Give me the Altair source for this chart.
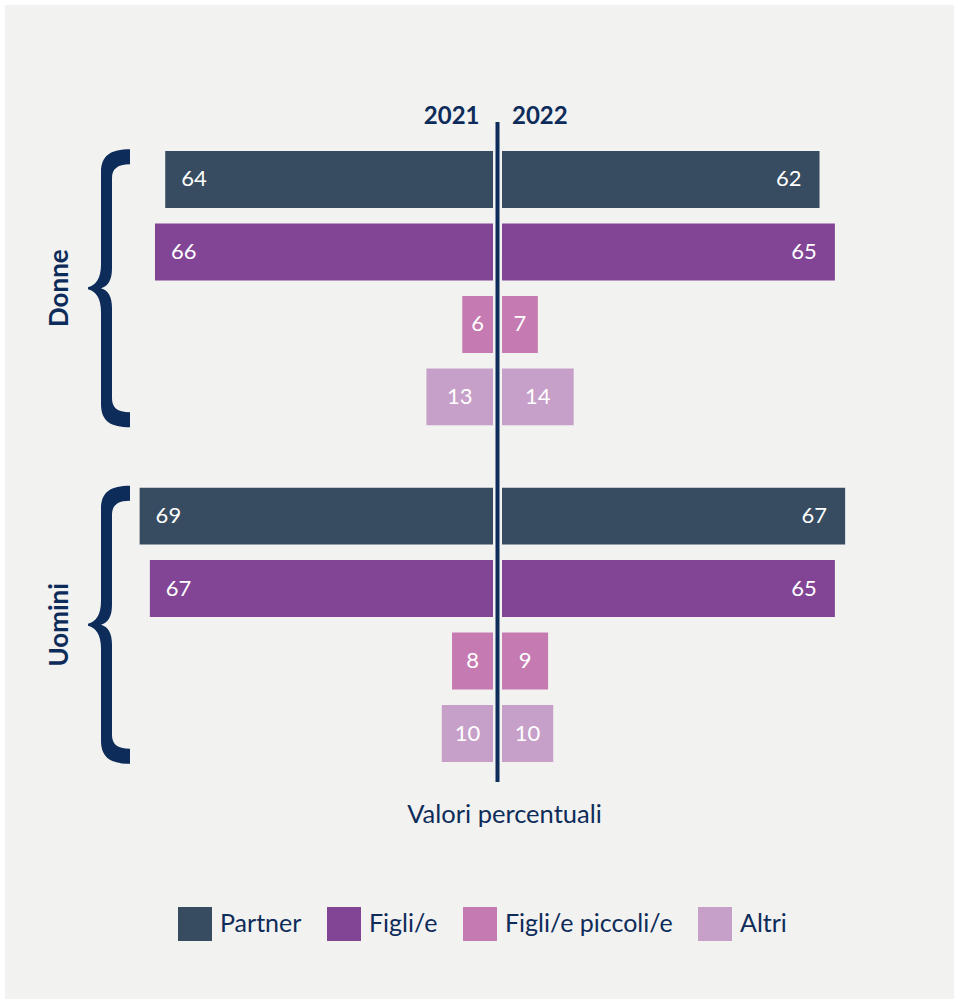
import json
import altair as alt
import pandas as pd

genders = ["Donne", "Uomini"]
categories = ["Partner", "Figli/e", "Figli/e piccoli/e", "Altri"]
years = ["2021", "2022"]
donne_2021 = [64, 66, 6, 13]
donne_2022 = [62, 65, 7, 14]
uomini_2021 = [69, 67, 8, 10]
uomini_2022 = [67, 65, 9, 10]
colors = ["#374b61", "#824596", "#c57ab1", "#c7a0c9"]
big_categories = ["Partner", "Figli/e"]
x_title = ["Valori percentuali"]

NAVY = "#0e2c5a"
FONT = "Lato"

rows = []
for g, yr, vals in [("Donne", "2021", donne_2021), ("Donne", "2022", donne_2022),
                    ("Uomini", "2021", uomini_2021), ("Uomini", "2022", uomini_2022)]:
    for c, v in zip(categories, vals):
        rows.append({"genere": g, "categoria": c, "anno": yr, "valore": v})
df = pd.DataFrame(rows)
gdf = pd.DataFrame({"genere": genders})

BIG = f"indexof({json.dumps(big_categories)}, datum.categoria) >= 0"
Y0 = f"datum.anno == '{years[0]}'"
Y1 = f"datum.anno == '{years[1]}'"

xscale = alt.Scale(domain=[-70, 70], nice=False)
yscale = alt.Scale(domain=genders, paddingInner=0.185, paddingOuter=0.0727, align=0.592)
Y = alt.Y("genere:N", scale=yscale, axis=None)
YO = alt.YOffset("categoria:N", scale=alt.Scale(domain=categories, paddingInner=0.214, paddingOuter=0))
C = alt.Color("categoria:N", scale=alt.Scale(domain=categories, range=colors), title=None,
              legend=alt.Legend(orient="none", legendX=39, legendY=785, direction="horizontal",
                                symbolType="square", symbolSize=1156, symbolStrokeWidth=0,
                                symbolOpacity=1, labelFontSize=25, labelFont=FONT,
                                labelLimit=400, labelColor=NAVY, labelOffset=8,
                                columnPadding=25))

base = alt.Chart(df)

bg = alt.Chart(pd.DataFrame({"a": [0]})).mark_rect(color="#f2f2f1").encode(
    x=alt.value(-134), x2=alt.value(840), y=alt.value(-117), y2=alt.value(900))

left_bars = base.transform_filter(Y0).transform_calculate(
    neg="-datum.valore").mark_bar(xOffset=-4.5, x2Offset=-4.5).encode(
    x=alt.X("neg:Q", scale=xscale, axis=None),
    x2=alt.datum(0), y=Y, yOffset=YO, color=C)

right_bars = base.transform_filter(Y1).mark_bar(
    xOffset=4.5, x2Offset=4.5).encode(
    x=alt.X("valore:Q", scale=xscale, axis=None), x2=alt.datum(0), y=Y, yOffset=YO, color=C)

txt = dict(color="white", fontSize=22, font=FONT, baseline="middle")

left_big = base.transform_filter(f"{Y0} && {BIG}").transform_calculate(
    neg="-datum.valore").mark_text(align="left", dx=11.5, **txt).encode(
    x=alt.X("neg:Q", scale=xscale, axis=None), y=Y, yOffset=YO, text="valore:Q")

right_big = base.transform_filter(f"{Y1} && {BIG}").mark_text(
    align="right", dx=-13.5, **txt).encode(
    x=alt.X("valore:Q", scale=xscale, axis=None), y=Y, yOffset=YO, text="valore:Q")

left_small = base.transform_filter(f"{Y0} && !({BIG})").transform_calculate(
    mid="-datum.valore / 2").mark_text(align="center", dx=-4.5, **txt).encode(
    x=alt.X("mid:Q", scale=xscale, axis=None), y=Y, yOffset=YO, text="valore:Q")

right_small = base.transform_filter(f"{Y1} && !({BIG})").transform_calculate(
    mid="datum.valore / 2").mark_text(align="center", dx=4.5, **txt).encode(
    x=alt.X("mid:Q", scale=xscale, axis=None), y=Y, yOffset=YO, text="valore:Q")

center_rule = alt.Chart(pd.DataFrame({"a": [0]})).mark_rule(color=NAVY, strokeWidth=4).encode(
    x=alt.datum(0), y=alt.value(0), y2=alt.value(660))

year_style = dict(color=NAVY, fontSize=24, font=FONT, fontWeight="bold", baseline="alphabetic")
year_left = alt.Chart(pd.DataFrame({"anno": [years[0]]})).mark_text(
    align="right", dx=-18, **year_style).encode(x=alt.datum(0), y=alt.value(2), text="anno:N")
year_right = alt.Chart(pd.DataFrame({"anno": [years[1]]})).mark_text(
    align="left", dx=14.5, **year_style).encode(x=alt.datum(0), y=alt.value(2), text="anno:N")

title_text = alt.Chart(pd.DataFrame({"t": x_title})).mark_text(
    align="center", baseline="alphabetic", fontSize=25.5, font=FONT, color=NAVY).encode(
    x=alt.value(365.5), y=alt.value(701), text="t:N")

BRACE = ("M 21 -139 C 2 -139 -8 -133 -8 -116 L -8 -24 C -8 -10 -13 -3 -21 -1 L -21 1 "
         "C -13 3 -8 10 -8 24 L -8 116 C -8 133 2 139 21 139 L 21 124 C 8 124 3 119 3 110 "
         "L 3 20 C 3 8 -1 2 -8 0 C -1 -2 3 -8 3 -20 L 3 -110 C 3 -119 8 -124 21 -124 Z")

braces = alt.Chart(gdf).mark_point(shape=BRACE, size=4, filled=True, fill=NAVY, opacity=1,
                                   strokeWidth=0).encode(x=alt.value(-30), y=Y)

gender_labels = alt.Chart(gdf).mark_text(angle=270, align="center", baseline="middle",
                                         fontSize=26, fontWeight="bold", font=FONT,
                                         color=NAVY).encode(x=alt.value(-79), y=Y, text="genere:N")

chart = alt.layer(
    bg, left_bars, right_bars, left_big, right_big, left_small, right_small,
    center_rule, year_left, year_right, title_text, braces, gender_labels
).properties(
    width=717, height=660,
    autosize=alt.AutoSizeParams(type="none"),
    padding={"left": 139, "top": 122, "right": 98, "bottom": 217},
    background="white",
).configure_view(strokeWidth=0)

chart.save("out.html", embed_options={"renderer": "svg", "actions": False})
